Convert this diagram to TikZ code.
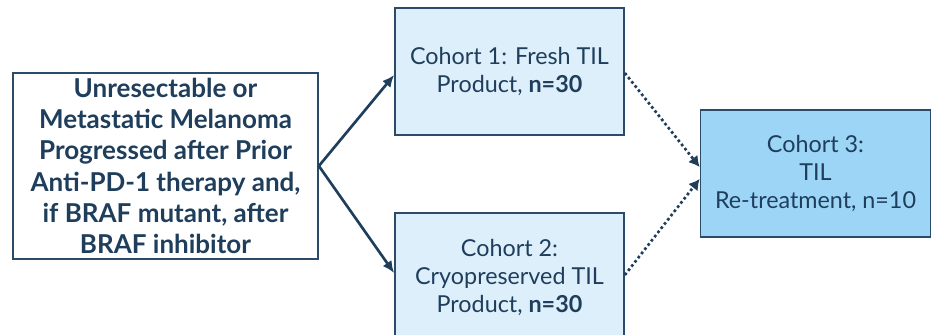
\documentclass[tikz,border=0pt]{standalone}
\usepackage{fontspec}
\setmainfont{Lato}
\usepackage{tikz}
\usetikzlibrary{arrows.meta,positioning}

\definecolor{navy}{HTML}{1F3E5C}
\definecolor{edgeblue}{HTML}{2C4B68}
\definecolor{paleblue}{HTML}{DCEFFB}
\definecolor{skyblue}{HTML}{9DD5F7}

\begin{document}
\begin{tikzpicture}[
  x=0.75pt,y=-0.75pt,
  box/.style={rectangle,draw=edgeblue,line width=1.3pt,align=center,text=navy,inner sep=0pt},
  cohort/.style={box,fill=paleblue,minimum width=171.75pt,minimum height=95.25pt,font=\fontsize{17.5}{21}\selectfont},
  flow/.style={draw=navy,line width=2pt,-{Latex[length=9pt,width=8pt]}},
  opt/.style={draw=navy,line width=2pt,dotted,-{Latex[length=8pt,width=9pt]}}
]
\useasboundingbox (0,0) rectangle (936,335);
\node[box,fill=white,minimum width=228.75pt,minimum height=139.5pt,
  font=\bfseries\fontsize{19.5}{23.4}\selectfont] (pop) at (165.5,166)
  {Unresectable or\\Metastatic Melanoma\\Progressed after Prior\\Anti-PD-1 therapy and,\\if BRAF mutant, after\\BRAF inhibitor};
\node[cohort] (fresh) at (509.5,71.5) {Cohort 1: Fresh TIL\\Product, \textbf{n=30}};
\node[cohort,minimum height=96pt] (cryo) at (509.5,277) {Cohort 2:\\Cryopreserved TIL\\Product, \textbf{n=30}};
\node[cohort,fill=skyblue,minimum width=172.5pt] (retreat) at (815.5,173.5) {Cohort 3:\\TIL\\Re-treatment, n=10};

\draw[flow] (pop.east) -- (fresh.west |- 0,75);
\draw[flow] (pop.east) -- (cryo.west |- 0,273);
\draw[opt] (fresh.east |- 0,73) -- (retreat.west |- 0,167);
\draw[opt] (cryo.east |- 0,275) -- (retreat.west |- 0,179);
\end{tikzpicture}
\end{document}
